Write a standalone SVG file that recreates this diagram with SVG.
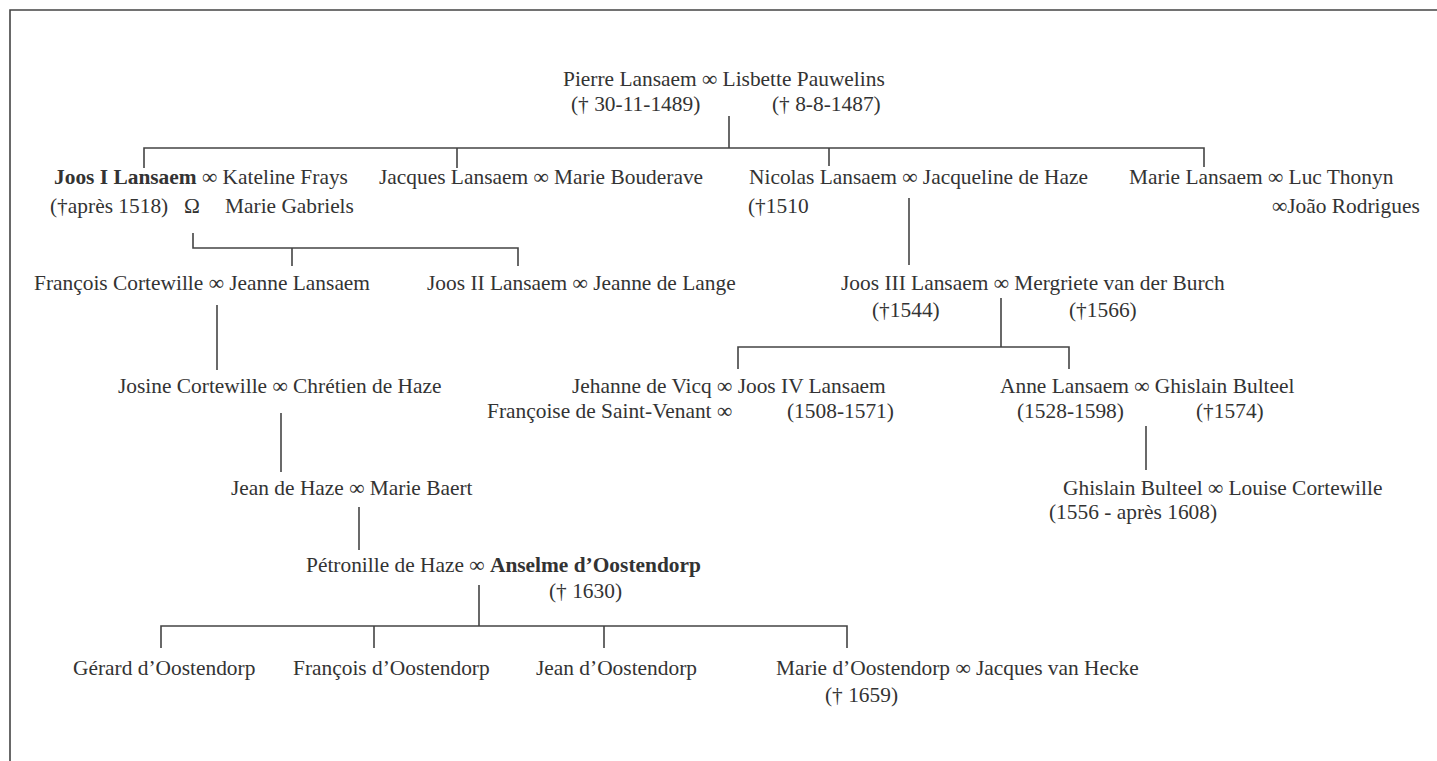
<svg xmlns="http://www.w3.org/2000/svg" width="1437" height="761" viewBox="0 0 1437 761">
<style>
text{font-family:"Liberation Serif","Times New Roman",serif;font-size:21.4px;fill:#333}
.b{font-weight:bold}
.ln{stroke:#444;stroke-width:1.6;fill:none}
</style>
<rect width="1437" height="761" fill="#fff"/>
<path class="ln" d="M10,761 V10 H1437"/>
<g id="connectors">
<path class="ln" d="M729,116 V148 M144,168 V148 H1204 V167 M457,148 V168 M829,148 V166"/>
<path class="ln" d="M193,233 V248 H518 V266 M292,248 V266"/>
<path class="ln" d="M909,198 V265"/>
<path class="ln" d="M217,305 V370"/>
<path class="ln" d="M1001,298 V347 M738,369 V347 H1069 V369"/>
<path class="ln" d="M281,413 V472"/>
<path class="ln" d="M1146,426 V470"/>
<path class="ln" d="M359,507 V550"/>
<path class="ln" d="M479,585 V626 M161,648 V626 H847 V648 M374,626 V648 M604,626 V648"/>
</g>
<g id="n-pierre"><text x="563" y="86">Pierre Lansaem ∞ Lisbette Pauwelins</text><text x="571" y="111">(† 30-11-1489)</text><text x="772" y="111">(† 8-8-1487)</text></g>
<g id="n-joos1"><text x="54" y="184"><tspan class="b">Joos I Lansaem</tspan> ∞ Kateline Frays</text><text x="50" y="213">(†après 1518)</text><text x="184" y="213">Ω</text><text x="225" y="213">Marie Gabriels</text></g>
<g id="n-jacques"><text x="379" y="184">Jacques Lansaem ∞ Marie Bouderave</text></g>
<g id="n-nicolas"><text x="749" y="184">Nicolas Lansaem ∞ Jacqueline de Haze</text><text x="748" y="213">(†1510</text></g>
<g id="n-marie"><text x="1129" y="184">Marie Lansaem ∞ Luc Thonyn</text><text x="1272" y="213">∞João Rodrigues</text></g>
<g id="n-jeanne"><text x="34" y="290">François Cortewille ∞ Jeanne Lansaem</text></g>
<g id="n-joos2"><text x="427" y="290">Joos II Lansaem ∞ Jeanne de Lange</text></g>
<g id="n-joos3"><text x="841" y="290">Joos III Lansaem ∞ Mergriete van der Burch</text><text x="872" y="317">(†1544)</text><text x="1069" y="317">(†1566)</text></g>
<g id="n-josine"><text x="118" y="393">Josine Cortewille ∞ Chrétien de Haze</text></g>
<g id="n-joos4"><text x="572" y="393">Jehanne de Vicq ∞ Joos IV Lansaem</text><text x="487" y="418">Françoise de Saint-Venant ∞</text><text x="787" y="418">(1508-1571)</text></g>
<g id="n-anne"><text x="1000" y="393">Anne Lansaem ∞ Ghislain Bulteel</text><text x="1017" y="418">(1528-1598)</text><text x="1196" y="418">(†1574)</text></g>
<g id="n-jean"><text x="231" y="495">Jean de Haze ∞ Marie Baert</text></g>
<g id="n-ghislain"><text x="1063" y="495">Ghislain Bulteel ∞ Louise Cortewille</text><text x="1049" y="519">(1556 - après 1608)</text></g>
<g id="n-petronille"><text x="306" y="572">Pétronille de Haze ∞ <tspan class="b">Anselme d’Oostendorp</tspan></text><text x="549" y="598">(† 1630)</text></g>
<g id="n-gerard"><text x="73" y="675">Gérard d’Oostendorp</text></g>
<g id="n-francois"><text x="293" y="675">François d’Oostendorp</text></g>
<g id="n-jeanO"><text x="536" y="675">Jean d’Oostendorp</text></g>
<g id="n-marieO"><text x="776" y="675">Marie d’Oostendorp ∞ Jacques van Hecke</text><text x="825" y="702">(† 1659)</text></g>
</svg>
